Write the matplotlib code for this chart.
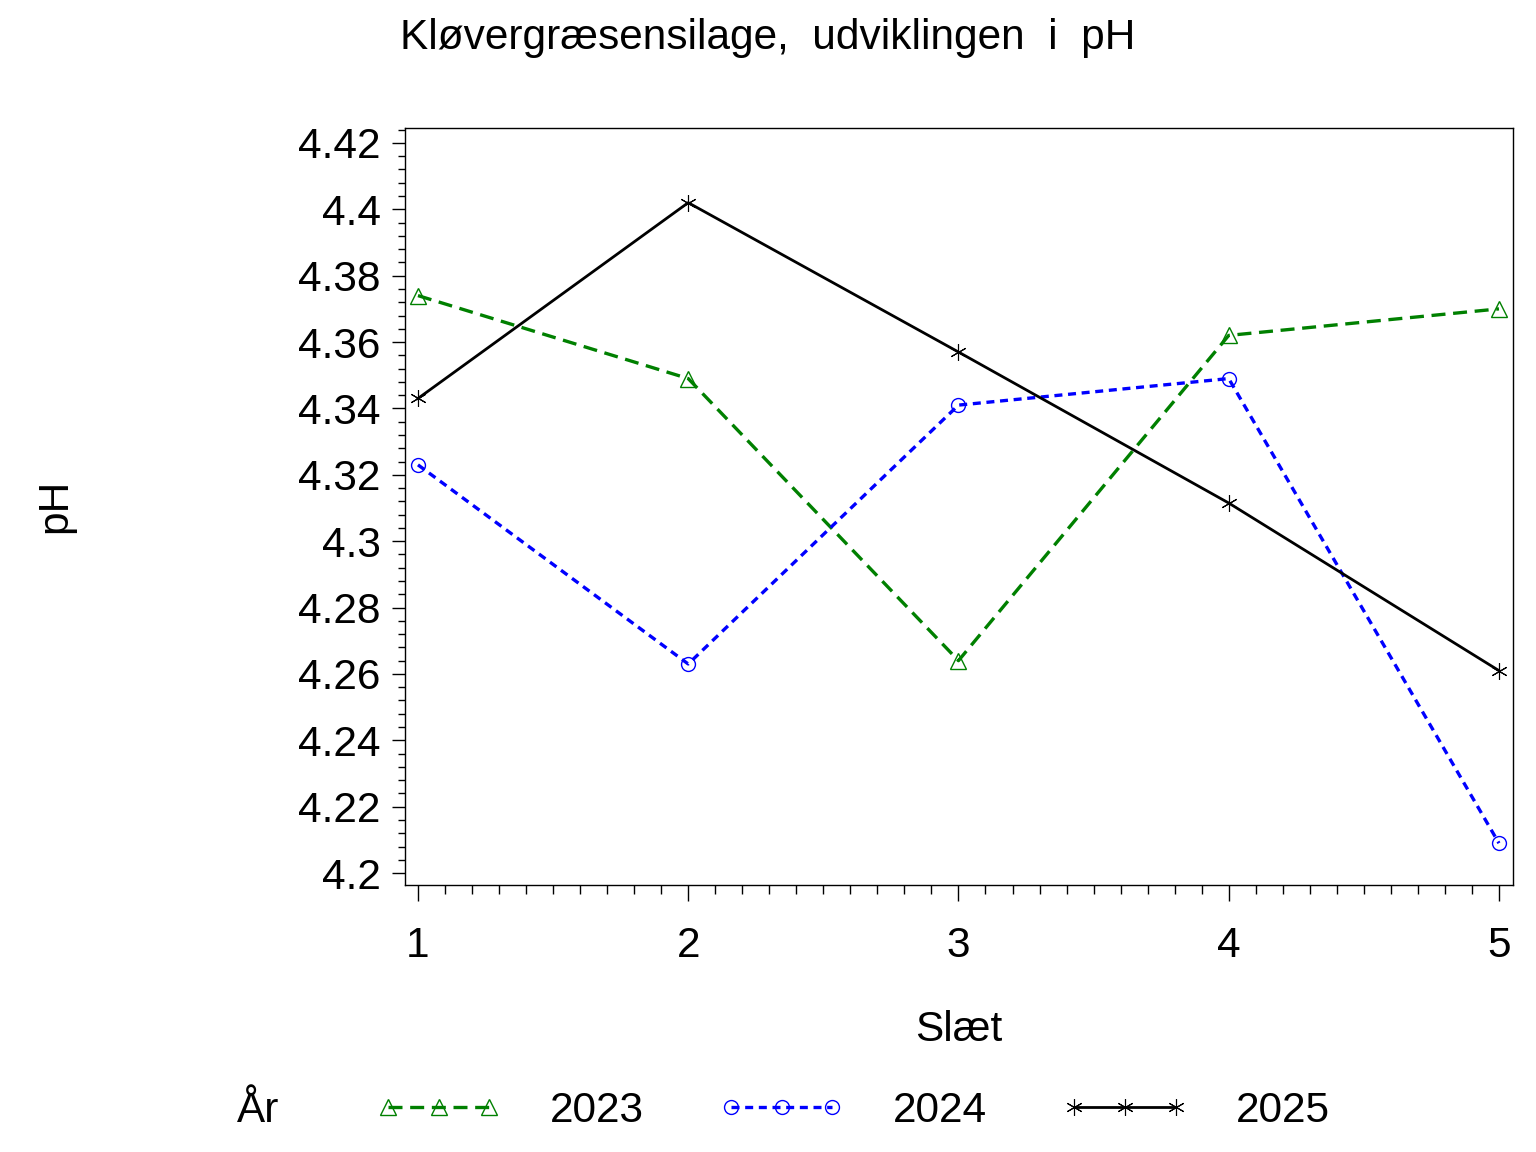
import matplotlib
matplotlib.use("Agg")
import matplotlib.pyplot as plt
from matplotlib.ticker import MultipleLocator

plt.rcParams['font.family'] = ['Liberation Sans', 'DejaVu Sans']

slaet = [1, 2, 3, 4, 5]
ph_2023 = [4.374, 4.349, 4.264, 4.362, 4.370]
ph_2024 = [4.323, 4.263, 4.341, 4.349, 4.209]
ph_2025 = [4.343, 4.402, 4.357, 4.3115, 4.261]
yticks = [4.2, 4.22, 4.24, 4.26, 4.28, 4.3, 4.32, 4.34, 4.36, 4.38, 4.4, 4.42]
ytick_labels = ["4.2", "4.22", "4.24", "4.26", "4.28", "4.3", "4.32", "4.34",
                "4.36", "4.38", "4.4", "4.42"]
xtick_labels = ["1", "2", "3", "4", "5"]

W, H = 1536, 1152
fig = plt.figure(figsize=(W / 100, H / 100), dpi=100)
ax = fig.add_axes([405 / W, 1 - 885 / H, (1513 - 405) / W, (885 - 128) / H])

fs = 30.5
star = (6, 2, 0)
l1, = ax.plot(slaet, ph_2023, color='#008000', lw=2.4, dashes=(4.2, 2.3),
              marker='^', ms=11, mfc='none', mec='#008000', mew=1.0)
l2, = ax.plot(slaet, ph_2024, color='#0000ff', lw=2.4, dashes=(2.4, 1.7),
              marker='o', ms=10, mfc='none', mec='#0000ff', mew=1.0)
l3, = ax.plot(slaet, ph_2025, color='black', lw=2.0, linestyle='-',
              marker=star, ms=12, mec='black', mew=0.8)

ax.set_xlim(0.952, 5.052)
ax.set_ylim(4.1964, 4.4245)
ax.set_yticks(yticks)
ax.set_yticklabels(ytick_labels)
ax.set_xticks(slaet)
ax.set_xticklabels(xtick_labels)
ax.yaxis.set_minor_locator(MultipleLocator(0.004))
ax.xaxis.set_minor_locator(MultipleLocator(0.1))
ax.tick_params(axis='y', which='major', length=9.4, width=1, labelsize=fs, pad=8)
ax.tick_params(axis='y', which='minor', length=5, width=1)
ax.tick_params(axis='x', which='major', length=11.5, width=1, labelsize=fs, pad=18)
ax.tick_params(axis='x', which='minor', length=6.5, width=1)
for s in ax.spines.values():
    s.set_linewidth(1.0)

ax.set_xlabel("Slæt", fontsize=fs, labelpad=32)
fig.text(55 / W, 1 - 506 / H, "pH", rotation=90, fontsize=fs, ha='center', va='center')
fig.text(768 / W, 1 - 38 / H, "Kløvergræsensilage,  udviklingen  i  pH",
         fontsize=fs, ha='center', va='center')

fig.text(237 / W, 1 - 1111 / H, "År", fontsize=fs, ha='left', va='center')
fig.legend([l1, l2, l3], ["2023", "2024", "2025"], loc='center left',
           bbox_to_anchor=(375 / W, 1 - 1111 / H), ncol=3, frameon=False,
           fontsize=fs, handlelength=3.0, handletextpad=1.12, columnspacing=1.76,
           numpoints=3, borderpad=0, borderaxespad=0)

fig.savefig("out.png", dpi=100)
